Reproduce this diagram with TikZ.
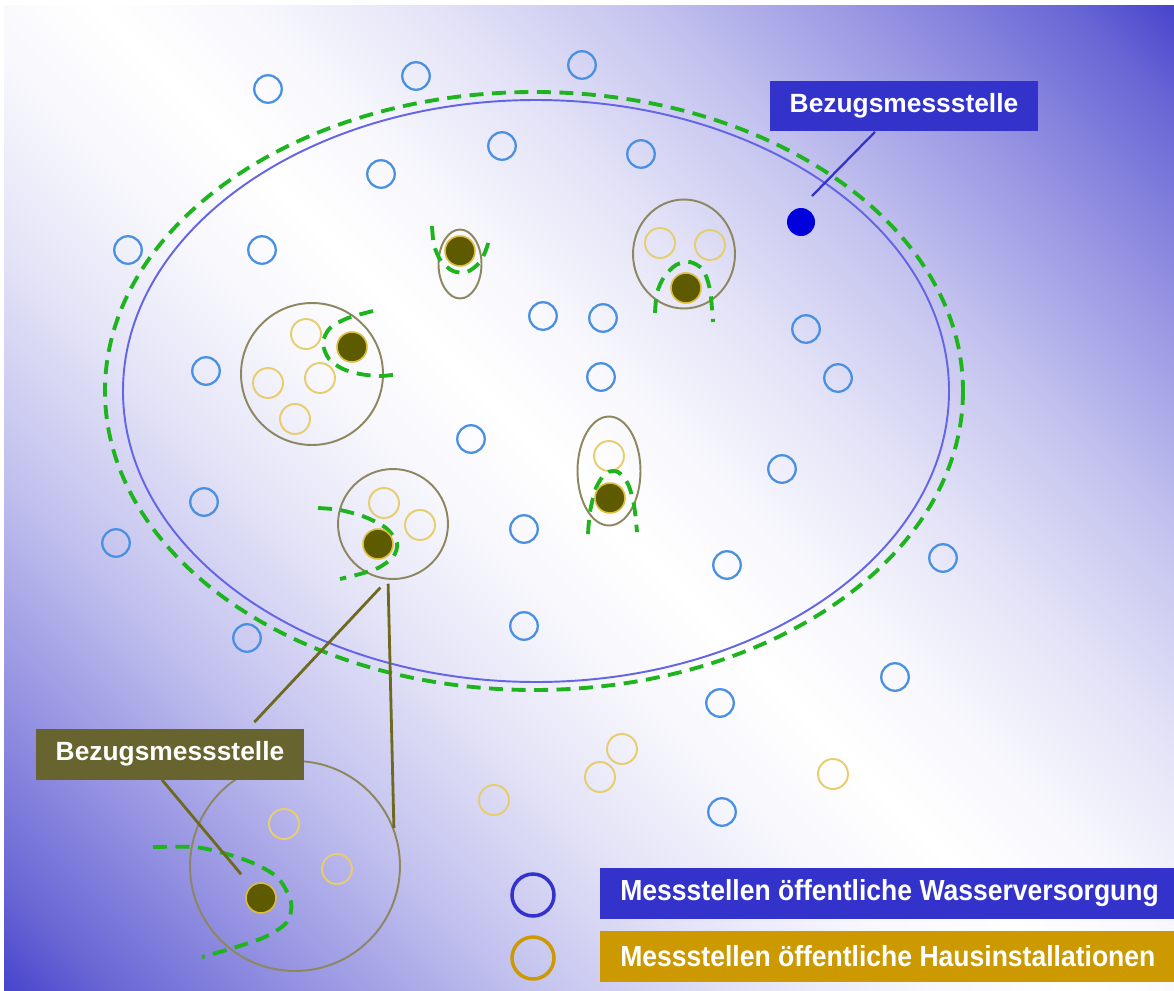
\documentclass[tikz,border=0pt]{standalone}
\usepackage{fontspec}
\setmainfont{Liberation Sans}
\newfontfamily\legendfont[FakeStretch=0.915]{Liberation Sans}
\usepackage{xcolor}
\usepackage{tikz}
\usetikzlibrary{shapes.geometric}

\definecolor{bgBlue}{RGB}{58,54,200}
\colorlet{bgA}{bgBlue!4!white}
\colorlet{bgB}{bgBlue!14!white}
\colorlet{bgC}{bgBlue!30!white}
\colorlet{bgD}{bgBlue!52!white}
\colorlet{bgE}{bgBlue!76!white}
\definecolor{wvBlue}{RGB}{74,144,226}
\definecolor{hiGold}{RGB}{230,205,110}
\definecolor{grpGrey}{RGB}{140,135,95}
\definecolor{refOlive}{RGB}{94,90,0}
\definecolor{refRim}{RGB}{220,190,60}
\definecolor{zoneGreen}{RGB}{30,180,30}
\definecolor{rimBlue}{RGB}{100,100,230}
\definecolor{leadOlive}{RGB}{110,105,30}
\definecolor{tagOlive}{RGB}{104,100,48}
\definecolor{tagBlue}{RGB}{51,51,204}
\definecolor{tagGold}{RGB}{204,153,0}
\definecolor{refBlue}{RGB}{0,0,221}

\pgfdeclareverticalshading{backdrop}{100bp}{color(0bp)=(bgBlue); color(13bp)=(bgBlue); color(18bp)=(bgE); color(25bp)=(bgD); color(32bp)=(bgC); color(39bp)=(bgB); color(45bp)=(bgA); color(50bp)=(white); color(55bp)=(bgA); color(61bp)=(bgB); color(68bp)=(bgC); color(75bp)=(bgD); color(82bp)=(bgE); color(87bp)=(bgBlue); color(100bp)=(bgBlue)}

\tikzset{wv/.style={circle, draw=wvBlue, line width=1.3pt,
    minimum size=0.55cm, inner sep=0pt},
  hi/.style={circle, draw=hiGold, line width=1.1pt,
    minimum size=0.6cm, inner sep=0pt},
  refdot/.style={circle, fill=refOlive, draw=refRim, line width=0.9pt,
    minimum size=0.6cm, inner sep=0pt},
  grp/.style={draw=grpGrey, line width=1.1pt, inner sep=0pt},
  zone/.style={draw=zoneGreen, line width=2.2pt,
    dash pattern=on 0.28cm off 0.17cm},
  rim/.style={draw=rimBlue, line width=1.1pt},
  lead/.style={draw=#1, line width=1.6pt},
  tag/.style={fill=#1, text=white,
    font=\fontsize{15}{18}\selectfont\bfseries,
    minimum width=5.36cm, minimum height=1.02cm, inner sep=0pt},
  legbox/.style={fill=#1, text=white, anchor=west,
    font=\legendfont\fontsize{16.5}{19}\selectfont\bfseries,
    minimum width=11.48cm, inner xsep=0.4cm,
    minimum height=1.02cm, inner ysep=0pt},
  legring/.style={circle, draw=#1, line width=2pt,
    minimum size=0.84cm, inner sep=0pt}
}
\newcommand{\legtext}[1]{\makebox[10.68cm][l]{#1}}

\begin{document}
\begin{tikzpicture}[x=0.02cm, y=-0.02cm]
  \useasboundingbox (0,0) rectangle (1174,991);
  \fill[white] (0,0) rectangle (1174,991);
  \shade[shading=backdrop, shading angle=-45] (4,5) rectangle (1174,991);

  % supply zone
  \draw[rim] (536,391) ellipse [x radius=413, y radius=291];
  \draw[zone] (534,391) ellipse [x radius=429, y radius=299];

  % public water supply points
  \node[wv] (w1) at (268,89) {};
  \node[wv] (w2) at (416,76) {};
  \node[wv] (w3) at (582,65) {};
  \node[wv] (w4) at (502,146) {};
  \node[wv] (w5) at (641,154) {};
  \node[wv] (w6) at (381,174) {};
  \node[wv] (w7) at (128,250) {};
  \node[wv] (w8) at (262,250) {};
  \node[wv] (w9) at (543,316) {};
  \node[wv] (w10) at (603,318) {};
  \node[wv] (w11) at (806,329) {};
  \node[wv] (w12) at (838,378) {};
  \node[wv] (w13) at (206,371) {};
  \node[wv] (w14) at (601,377) {};
  \node[wv] (w15) at (471,439) {};
  \node[wv] (w16) at (782,469) {};
  \node[wv] (w17) at (204,502) {};
  \node[wv] (w18) at (116,543) {};
  \node[wv] (w19) at (524,529) {};
  \node[wv] (w20) at (727,565) {};
  \node[wv] (w21) at (943,558) {};
  \node[wv] (w22) at (247,638) {};
  \node[wv] (w23) at (524,626) {};
  \node[wv] (w24) at (895,677) {};
  \node[wv] (w25) at (720,703) {};
  \node[wv] (w26) at (722,812) {};
  \node[circle, fill=refBlue, minimum size=0.56cm, inner sep=0pt] (refW) at (801,222) {};

  % house installations
  \node[hi] (h1) at (622,749) {};
  \node[hi] (h2) at (600,777) {};
  \node[hi] (h3) at (494,800) {};
  \node[hi] (h4) at (833,774) {};

  \node[grp, circle, minimum size=2.84cm] (grpA) at (312,374) {};
  \node[hi] (hA1) at (306,334) {};
  \node[hi] (hA2) at (268,383) {};
  \node[hi] (hA3) at (320,378) {};
  \node[hi] (hA4) at (295,419) {};
  \draw[zone] plot[smooth] coordinates {(373,311) (348,318) (330,328) (323,343)
    (329,359) (343,369) (360,374) (380,376) (400,374)};
  \node[refdot] (dA) at (352,347) {};

  \node[grp, ellipse, minimum width=0.86cm, minimum height=1.38cm] (grpB) at (460,264) {};
  \draw[zone] plot[smooth] coordinates {(432,226) (434,245) (441,261) (453,271)
    (467,272) (480,262) (487,247) (490,235)};
  \node[refdot] (dB) at (460,251) {};

  \node[grp, ellipse, minimum width=2.04cm, minimum height=2.18cm] (grpC) at (684,254) {};
  \node[hi] (hC1) at (660,243) {};
  \node[hi] (hC2) at (710,245) {};
  \draw[zone] plot[smooth] coordinates {(655,313) (657,293) (664,277) (676,265)
    (690,262) (703,270) (710,290) (713,322)};
  \node[refdot] (dC) at (686,288) {};

  \node[grp, ellipse, minimum width=1.26cm, minimum height=2.18cm] (grpD) at (609,471) {};
  \node[hi] (hD1) at (609,456) {};
  \draw[zone] plot[smooth] coordinates {(588,534) (590,512) (596,488) (606,473)
    (618,472) (628,484) (634,505) (637,532)};
  \node[refdot] (dD) at (610,498) {};

  \node[grp, circle, minimum size=2.2cm] (grpE) at (393,524) {};
  \node[hi] (hE1) at (384,503) {};
  \node[hi] (hE2) at (420,525) {};
  \draw[zone] plot[smooth] coordinates {(318,508) (340,510) (365,517) (386,528)
    (397,543) (393,557) (378,568) (360,574) (340,579)};
  \node[refdot] (dE) at (378,544) {};

  \node[grp, circle, minimum size=4.2cm] (grpF) at (295,866) {};
  \node[hi] (hF1) at (284,824) {};
  \node[hi] (hF2) at (337,869) {};
  \draw[zone] plot[smooth] coordinates {(153,847) (193,847) (220,852) (253,863)
    (278,878) (291,902) (287,922) (265,937) (233,948) (202,957)};
  \node[refdot] (dF) at (261,898) {};

  % labels
  \node[tag=tagBlue] (tagW) at (904,106) {Bezugsmessstelle};
  \draw[lead=tagBlue, line width=1.3pt] ([xshift=-0.58cm]tagW.south)
    -- ([shift={(0.22cm,0.52cm)}]refW.center);

  \node[tag=tagOlive] (tagF) at (170,754) {Bezugsmessstelle};
  \draw[lead=leadOlive] ([xshift=-1cm, yshift=0.12cm]tagF.north east)
    -- ([yshift=-0.18cm]grpE.-103);
  \draw[lead=leadOlive] ([yshift=-0.08cm]grpE.-95) -- (grpF.21);
  \draw[lead=leadOlive, shorten >=0.62cm] ([xshift=-0.16cm]tagF.south) -- (dF.center);

  % legend
  \node[legring=tagBlue] (ringW) at (533,895) {};
  \node[legring=tagGold] (ringH) at (533,958) {};
  \node[legbox=tagBlue] (legW) at (600,893) {\legtext{Messstellen öffentliche Wasserversorgung}};
  \node[legbox=tagGold] (legH) at (600,956) {\legtext{Messstellen öffentliche Hausinstallationen}};
\end{tikzpicture}
\end{document}
